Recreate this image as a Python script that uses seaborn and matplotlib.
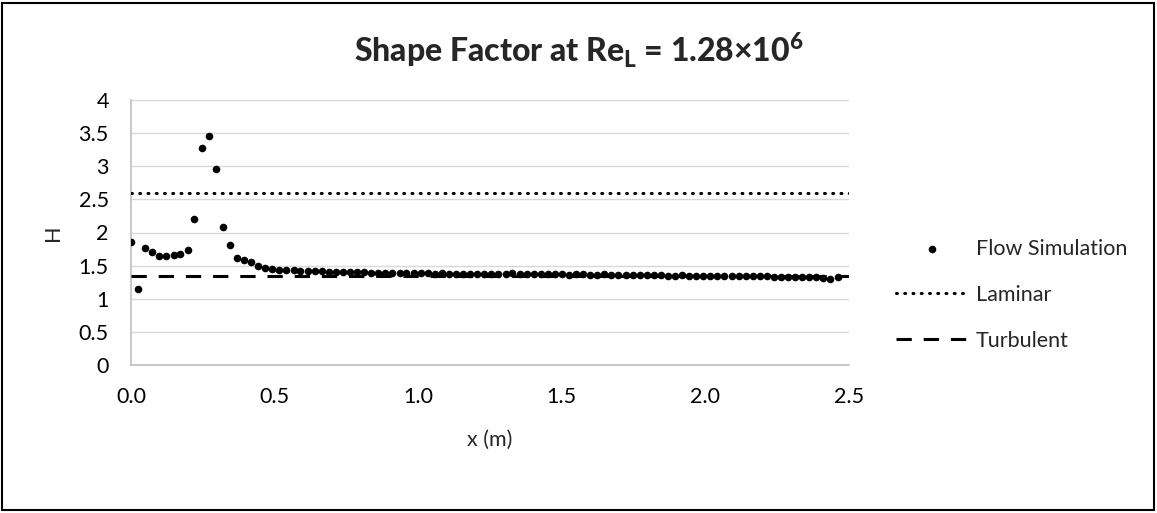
import matplotlib
matplotlib.use("Agg")
import matplotlib.pyplot as plt
from matplotlib.patches import Rectangle
import seaborn as sns

# Streamwise stations along the plate (m)
x_m = [0.000, 0.025, 0.049, 0.074, 0.098, 0.123, 0.148, 0.172, 0.197, 0.221,
       0.246, 0.271, 0.295, 0.320, 0.344, 0.369, 0.394, 0.418, 0.443, 0.467,
       0.492, 0.517, 0.541, 0.566, 0.590, 0.615, 0.640, 0.664, 0.689, 0.713,
       0.738, 0.763, 0.787, 0.812, 0.836, 0.861, 0.886, 0.910, 0.935, 0.959,
       0.984, 1.009, 1.033, 1.058, 1.082, 1.107, 1.132, 1.156, 1.181, 1.205,
       1.230, 1.255, 1.279, 1.304, 1.328, 1.353, 1.378, 1.402, 1.427, 1.451,
       1.476, 1.501, 1.525, 1.550, 1.574, 1.599, 1.624, 1.648, 1.673, 1.697,
       1.722, 1.747, 1.771, 1.796, 1.820, 1.845, 1.870, 1.894, 1.919, 1.943,
       1.968, 1.993, 2.017, 2.042, 2.066, 2.091, 2.116, 2.140, 2.165, 2.189,
       2.214, 2.239, 2.263, 2.288, 2.312, 2.337, 2.362, 2.386, 2.411, 2.435,
       2.460]

# Shape factor from the flow simulation
H_sim = [1.86, 1.14, 1.76, 1.70, 1.65, 1.65, 1.665, 1.68, 1.73, 2.21,
         3.27, 3.45, 2.96, 2.09, 1.81, 1.62, 1.59, 1.55, 1.50, 1.46,
         1.445, 1.44, 1.435, 1.43, 1.425, 1.42, 1.42, 1.415, 1.41, 1.41,
         1.405, 1.40, 1.40, 1.40, 1.395, 1.395, 1.39, 1.39, 1.39, 1.385,
         1.385, 1.385, 1.385, 1.38, 1.385, 1.38, 1.38, 1.38, 1.375, 1.38,
         1.38, 1.375, 1.375, 1.38, 1.385, 1.38, 1.375, 1.37, 1.37, 1.37,
         1.37, 1.37, 1.365, 1.37, 1.37, 1.365, 1.365, 1.37, 1.365, 1.36,
         1.36, 1.36, 1.355, 1.355, 1.36, 1.355, 1.35, 1.35, 1.355, 1.35,
         1.35, 1.35, 1.35, 1.345, 1.345, 1.35, 1.345, 1.34, 1.34, 1.34,
         1.34, 1.335, 1.335, 1.33, 1.33, 1.33, 1.325, 1.325, 1.315, 1.30,
         1.325]

# Reference shape factors
ref_x = [0.0, 2.5]
laminar_H = [2.59, 2.59]
turbulent_H = [1.35, 1.35]

y_ticks = [0, 0.5, 1, 1.5, 2, 2.5, 3, 3.5, 4]
y_tick_labels = ["0", "0.5", "1", "1.5", "2", "2.5", "3", "3.5", "4"]
x_ticks = [0.0, 0.5, 1.0, 1.5, 2.0, 2.5]
x_tick_labels = ["0.0", "0.5", "1.0", "1.5", "2.0", "2.5"]

sns.set_theme(style="white")
plt.rcParams["font.family"] = ["Lato", "DejaVu Sans"]
plt.rcParams["mathtext.fontset"] = "custom"
plt.rcParams["mathtext.rm"] = "Lato"
plt.rcParams["mathtext.bf"] = "Lato:black"

W, Hpx = 1157, 513
fs = 15.5
fig = plt.figure(figsize=(W / 100, Hpx / 100), dpi=100)
ax = fig.add_axes([131 / W, (Hpx - 365) / Hpx, 718 / W, 265 / Hpx])

sns.scatterplot(x=x_m, y=H_sim, ax=ax, color="black", s=30, linewidth=0,
                label="Flow Simulation", zorder=4)
sns.lineplot(x=ref_x, y=laminar_H, ax=ax, color="black", linewidth=2.2,
             linestyle=(0, (0.3, 2.4)), dash_capstyle="round",
             label="Laminar", zorder=3)
sns.lineplot(x=ref_x, y=turbulent_H, ax=ax, color="black", linewidth=2.2,
             linestyle=(0, (5.0, 3.9)), label="Turbulent", zorder=3)

ax.set_xlim(0, 2.5)
ax.set_ylim(0, 4)
ax.set_xticks(x_ticks)
ax.set_xticklabels(x_tick_labels)
ax.set_yticks(y_ticks)
ax.set_yticklabels(y_tick_labels)
ax.tick_params(axis="both", length=0, labelsize=fs, colors="#000000")
ax.tick_params(axis="y", pad=16)
ax.tick_params(axis="x", pad=16)

ax.grid(axis="y", color="#d9d9d9", linewidth=1.0)
ax.grid(axis="x", visible=False)
for side in ("top", "right"):
    ax.spines[side].set_visible(False)
for side in ("left", "bottom"):
    ax.spines[side].set_color("#bfbfbf")
    ax.spines[side].set_linewidth(1.2)

ax.set_xlabel("x (m)", fontsize=fs)
ax.set_ylabel("H", fontsize=fs)
ax.xaxis.set_label_coords(0.5, -0.245)
ax.yaxis.set_label_coords(-0.095, 0.5)

handles, labels = ax.get_legend_handles_labels()
ax.legend_.remove()
fig.legend(handles, labels, loc="upper left",
           bbox_to_anchor=(896 / W, 1 - 239 / Hpx), frameon=False,
           fontsize=fs, handlelength=3.3, handletextpad=0.4,
           labelspacing=1.2, borderpad=0, borderaxespad=0)

fig.text(0.5, 1 - 50 / Hpx,
         r"Shape Factor at Re$_\mathbf{L}$ = 1.28×10$^\mathbf{6}$",
         ha="center", va="center", fontsize=23, fontweight="black")

fig.patches.append(Rectangle((2 / W, 3 / Hpx), (1154 - 2) / W, (510 - 3) / Hpx,
                             transform=fig.transFigure, fill=False,
                             edgecolor="black", linewidth=1.5))

fig.savefig("out.png", dpi=100)
